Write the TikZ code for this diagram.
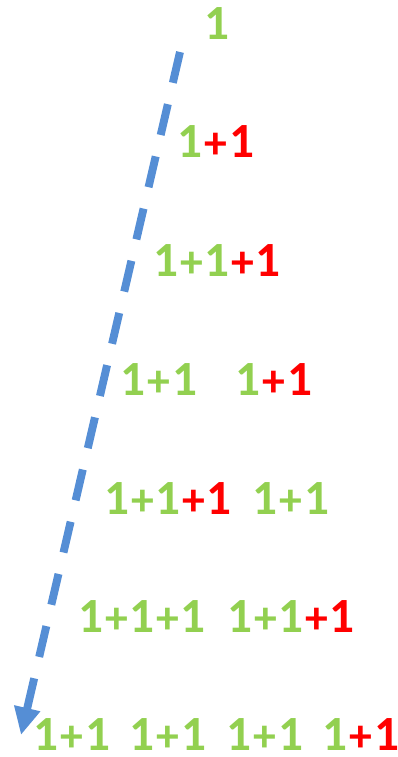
\documentclass[tikz,border=0pt]{standalone}
\usepackage{fontspec}
\setmainfont{Carlito}
\usepackage{tikz}
\usetikzlibrary{arrows.meta}
\definecolor{onegreen}{HTML}{92D050}
\definecolor{plusred}{HTML}{FF0000}
\definecolor{arrowblue}{HTML}{558ED5}
\tikzset{
  sum/.style={text=onegreen, font=\bfseries\fontsize{28}{30}\selectfont, anchor=base, inner sep=0pt},
  growarrow/.style={-{Triangle[length=5.5mm,width=5mm]}, line width=4.5pt, draw=arrowblue, dash pattern=on 18pt off 12.5pt}
}
\newcommand{\sumplus}{\kern1.2pt{\fontsize{26}{26}\selectfont\raisebox{-0.8pt}{+}}\kern0.8pt}
\newcommand{\addone}{\textcolor{plusred}{\sumplus 1}}

\begin{document}
\begin{tikzpicture}[x=0.02cm, y=-0.02cm]
\useasboundingbox (0,0) rectangle (398,757);
% row 1
\node[sum] (r1) at (217,40) {1};
% row 2
\node[sum] (r2) at (216,157) {1\addone};
% row 3
\node[sum] (r3) at (217,276) {1\sumplus 1\addone};
% row 4
\node[sum] (r4a) at (159,395) {1\sumplus 1};
\node[sum] (r4b) at (274,395) {1\addone};
% row 5
\node[sum] (r5a) at (168,514) {1\sumplus 1\addone};
\node[sum] (r5b) at (291,514) {1\sumplus 1};
% row 6
\node[sum] (r6a) at (142,632) {1\sumplus 1\sumplus 1};
\node[sum] (r6b) at (291,632) {1\sumplus 1\addone};
% row 7
\node[sum] (r7a) at (72,750) {1\sumplus 1};
\node[sum] (r7b) at (168,750) {1\sumplus 1};
\node[sum] (r7c) at (265,750) {1\sumplus 1};
\node[sum] (r7d) at (361,750) {1\addone};
% arrow
\coordinate (top) at (180,52);
\coordinate (tip) at (21,735);
\draw[growarrow] (top) -- (tip);
\end{tikzpicture}
\end{document}
